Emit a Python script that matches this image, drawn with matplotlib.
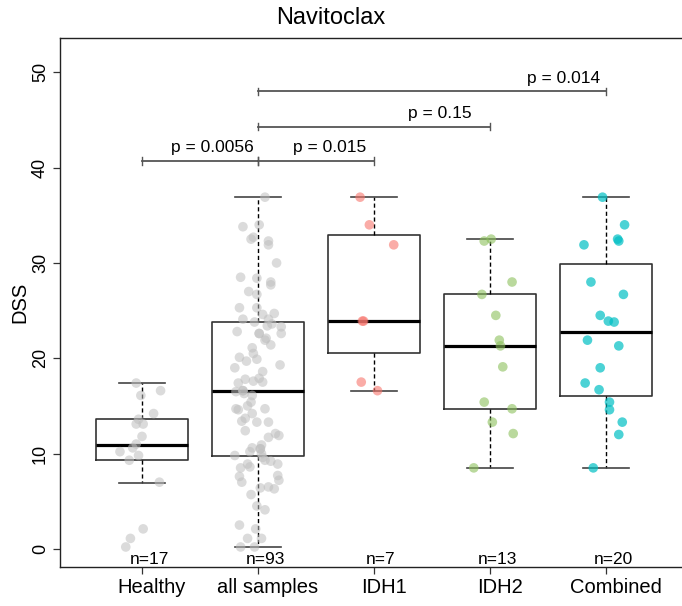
import numpy as np
import matplotlib
matplotlib.use('Agg')
import matplotlib.pyplot as plt
import matplotlib.transforms as mtransforms

plt.rcParams['font.family'] = ['Liberation Sans', 'DejaVu Sans']

groups = ['Healthy', 'all samples', 'IDH1', 'IDH2', 'Combined']
counts = [17, 93, 7, 13, 20]

# box statistics
q1 = [9.3, 9.76, 20.6, 14.7, 16.0]
med = [10.95, 16.6, 23.9, 21.3, 22.8]
q3 = [13.6, 23.8, 32.9, 26.7, 29.9]
whislo = [6.96, 0.2, 16.6, 8.5, 8.5]
whishi = [17.4, 36.9, 36.9, 32.5, 36.9]

# points (DSS) and their horizontal jitter
healthy = [17.4, 16.1, 16.6, 14.2, 13.6, 13.1, 13.1, 11.8, 11.0, 10.6, 10.2, 9.8, 9.3, 7.0, 2.1, 1.1, 0.2]
healthy_jit = [-0.05, -0.01, 0.16, 0.10, -0.03, -0.05, 0.01, 0.00, -0.05, -0.08, -0.19, -0.03, -0.11, 0.15, 0.01, -0.10, -0.14]

all_samples = [36.9, 33.8, 34.0, 32.7, 32.5, 32.3, 31.9, 30.0, 28.5, 28.4, 28.0, 27.7, 27.0, 26.7, 25.3, 25.3,
               24.6, 24.7, 24.1, 23.8, 24.1, 23.4, 23.6, 23.3, 22.8, 22.6, 22.6, 22.1, 21.9, 21.4, 21.1, 20.5,
               20.1, 19.9, 19.7, 19.3, 19.0, 18.6, 17.8, 17.9, 17.6, 17.5, 17.4, 16.5, 16.6, 16.3, 16.1, 15.4,
               15.0, 14.7, 14.6, 14.2, 14.7, 13.7, 13.4, 13.3, 13.3, 12.4, 11.7, 12.1, 11.9, 10.9, 10.6, 10.5,
               10.2, 10.0, 9.8, 9.6, 9.3, 9.2, 8.9, 8.9, 8.6, 8.5, 7.7, 7.6, 7.2, 7.0, 6.4, 6.5, 6.3, 5.7,
               4.5, 4.1, 2.5, 2.1, 1.1, 1.1, 0.2, 0.2, 16.6, 10.5, 22.6]
all_jit = [0.06, -0.13, 0.01, -0.04, -0.06, 0.09, 0.09, 0.16, -0.15, -0.01, 0.11, 0.11, -0.08, -0.01, -0.16, -0.01,
           0.04, 0.14, -0.13, -0.03, 0.09, 0.08, 0.12, 0.20, -0.18, 0.01, 0.20, 0.07, 0.06, 0.11, -0.05, -0.04,
           -0.16, -0.01, -0.10, 0.19, -0.20, 0.04, -0.11, 0.01, -0.04, 0.04, -0.17, -0.19, -0.13, -0.12, -0.05, -0.06,
           -0.09, -0.19, -0.17, -0.05, 0.06, -0.11, -0.14, -0.01, 0.09, -0.11, 0.09, 0.15, 0.18, 0.03, -0.05, 0.02,
           -0.07, 0.03, -0.20, 0.04, 0.06, 0.11, 0.17, -0.09, -0.07, -0.15, 0.17, -0.16, 0.18, -0.14, 0.02, 0.09, 0.14, -0.06,
           -0.01, 0.06, -0.16, -0.02, -0.09, 0.03, -0.15, -0.03, -0.13, 0.02, 0.01]

idh1 = [36.9, 34.0, 31.9, 23.9, 23.9, 17.5, 16.6]
idh1_jit = [-0.12, -0.04, 0.17, -0.10, -0.09, -0.11, 0.03]

idh2 = [32.3, 32.5, 28.0, 26.7, 24.5, 21.9, 21.3, 19.1, 15.4, 14.7, 13.3, 12.1, 8.5]
idh2_jit = [-0.05, 0.01, 0.19, -0.07, 0.05, 0.08, 0.09, 0.11, -0.05, 0.19, 0.02, 0.20, -0.14]

combined = [36.9, 34.0, 32.5, 32.3, 31.9, 28.0, 26.7, 24.5, 23.9, 23.8, 21.9, 21.3, 19.0, 17.4, 16.7, 15.4,
            14.6, 13.3, 12.0, 8.5]
combined_jit = [-0.03, 0.16, 0.10, 0.11, -0.19, -0.13, 0.15, -0.05, 0.02, 0.07, -0.16, 0.11, -0.05, -0.18,
                -0.06, 0.03, 0.03, 0.14, 0.11, -0.11]

point_colors = ['#BEBEBE', '#BEBEBE', '#F8766D', '#8CC05C', '#00BFC4']
point_alpha = [0.55, 0.55, 0.6, 0.6, 0.7]

# comparisons: (group a, group b, height, label, label x)
comparisons = [(0, 1, 40.7, 'p = 0.0056', 1.61),
               (1, 2, 40.7, 'p = 0.015', 2.62),
               (1, 3, 44.3, 'p = 0.15', 3.57),
               (1, 4, 48.0, 'p = 0.014', 4.63)]

fig = plt.figure(figsize=(6.82, 6.06), dpi=100)
ax = fig.add_axes([60 / 682, 39 / 606, 1 - 60 / 682, 529 / 606])

pos = np.arange(1, len(groups) + 1)
stats = []
for i in range(len(groups)):
    stats.append(dict(q1=q1[i], med=med[i], q3=q3[i], whislo=whislo[i], whishi=whishi[i], fliers=[]))

ax.bxp(stats, positions=pos, widths=0.8, capwidths=0.4, showfliers=False,
       boxprops=dict(color='#333333', linewidth=1.2),
       medianprops=dict(color='black', linewidth=2.3),
       whiskerprops=dict(color='black', linewidth=1.0, linestyle=(0, (3, 2))),
       capprops=dict(color='#444444', linewidth=1.2))

series = [(healthy, healthy_jit), (all_samples, all_jit), (idh1, idh1_jit), (idh2, idh2_jit), (combined, combined_jit)]
for i, (vals, jit) in enumerate(series):
    ax.scatter(pos[i] + np.array(jit), vals, s=48, color=point_colors[i], alpha=point_alpha[i],
               edgecolors='none', zorder=3)

for a, b, h, lab, lx in comparisons:
    ax.plot([pos[a], pos[b]], [h, h], color='#555555', lw=1.3)
    ax.plot([pos[a], pos[a]], [h - 0.4, h + 0.4], color='#555555', lw=1.0)
    ax.plot([pos[b], pos[b]], [h - 0.4, h + 0.4], color='#555555', lw=1.0)
    ax.text(lx, h + 0.6, lab, ha='center', va='bottom', fontsize=12.5)

# labels in the reference sit a little right of their ticks
shift_n = mtransforms.ScaledTranslation(7 / 100, 0, fig.dpi_scale_trans)
for i, n in enumerate(counts):
    ax.text(pos[i], -1.15, 'n=' + str(n), ha='center', va='center', fontsize=12.5,
            transform=ax.transData + shift_n)

ax.set_xlim(0.293, 5.655)
ax.set_ylim(-1.9, 53.6)
ax.set_xticks(pos)
ax.set_xticklabels([''] * len(groups))
shift_x = mtransforms.ScaledTranslation(10 / 100, 0, fig.dpi_scale_trans)
xlab_trans = mtransforms.blended_transform_factory(ax.transData, ax.transAxes) + shift_x
for i, g in enumerate(groups):
    ax.text(pos[i], -0.038, g, ha='center', va='center', fontsize=14.5, transform=xlab_trans)

ax.set_yticks([0, 10, 20, 30, 40, 50])
ax.set_yticklabels(['0', '10', '20', '30', '40', '50'], rotation=90, va='center', fontsize=13)
ax.tick_params(axis='both', direction='out', length=5, width=0.9, color='#333333')
ax.tick_params(axis='y', pad=3)
ax.spines['right'].set_visible(False)
for s in ['left', 'top', 'bottom']:
    ax.spines[s].set_linewidth(1.0)
    ax.spines[s].set_color('#222222')

ax.set_ylabel('DSS', fontsize=14.5)
ax.yaxis.set_label_coords(-0.05, 0.5)
fig.text(331 / 682, 1 - 18 / 606, 'Navitoclax', ha='center', va='center', fontsize=17)

fig.savefig('out.png', dpi=100)
